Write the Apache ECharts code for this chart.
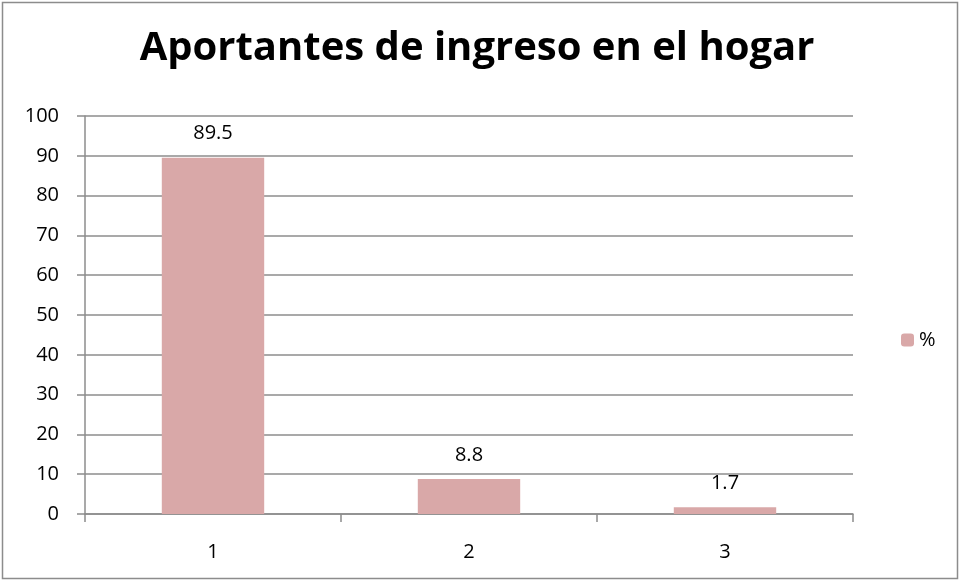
<!DOCTYPE html>
<html>
<head>
<meta charset="utf-8">
<script src="https://cdn.jsdelivr.net/npm/echarts@6/dist/echarts.min.js"></script>
<style>
  html, body { margin: 0; padding: 0; background: #fff; }
  #chart { width: 961px; height: 582px; }
</style>
</head>
<body>
<div id="chart"></div>
<script>
const categories = ['1', '2', '3']
const values = [89.5, 8.8, 1.7]
const seriesName = '%'
const titleText = 'Aportantes de ingreso en el hogar'

const font = '"Open Sans", Lato, sans-serif'
const gridColor = '#8c8c8c'
const barColor = '#d9a8a8'

const chart = echarts.init(document.getElementById('chart'))

const option = {
  animation: false,
  textStyle: { fontFamily: font },
  graphic: [
    {
      type: 'rect',
      shape: { x: 2.5, y: 2.5, width: 955, height: 576 },
      style: { fill: 'none', stroke: '#8c8c8c', lineWidth: 1.5 }
    }
  ],
  title: {
    text: titleText,
    left: 472,
    textAlign: 'center',
    top: 24,
    textStyle: {
      fontFamily: font,
      fontSize: 40,
      fontWeight: 'bold',
      color: '#000'
    }
  },
  legend: {
    data: [seriesName],
    orient: 'vertical',
    left: 896,
    top: 325,
    itemWidth: 13,
    itemHeight: 13,
    itemGap: 8,
    textStyle: { fontFamily: font, fontSize: 20, color: '#000' }
  },
  grid: {
    left: 85,
    right: 108,
    top: 116,
    bottom: 68
  },
  xAxis: {
    type: 'category',
    data: categories,
    axisLine: { show: true, lineStyle: { color: gridColor, width: 1.5 } },
    axisTick: { show: true, length: 8, lineStyle: { color: gridColor, width: 1.5 } },
    axisLabel: { fontFamily: font, fontSize: 20, color: '#000', margin: 28 }
  },
  yAxis: {
    type: 'value',
    min: 0,
    max: 100,
    interval: 10,
    axisLine: { show: true, lineStyle: { color: gridColor, width: 1.5 } },
    axisTick: { show: true, length: 8, lineStyle: { color: gridColor, width: 1.5 } },
    axisLabel: { fontFamily: font, fontSize: 20, color: '#000', margin: 26 },
    splitLine: { show: true, lineStyle: { color: gridColor, width: 1.5 } }
  },
  series: [
    {
      name: seriesName,
      type: 'bar',
      data: values,
      barWidth: '40%',
      itemStyle: { color: barColor },
      label: {
        show: true,
        position: 'top',
        distance: 14,
        fontFamily: font,
        fontSize: 20,
        color: '#000'
      }
    }
  ]
}

chart.setOption(option)
</script>
</body>
</html>
